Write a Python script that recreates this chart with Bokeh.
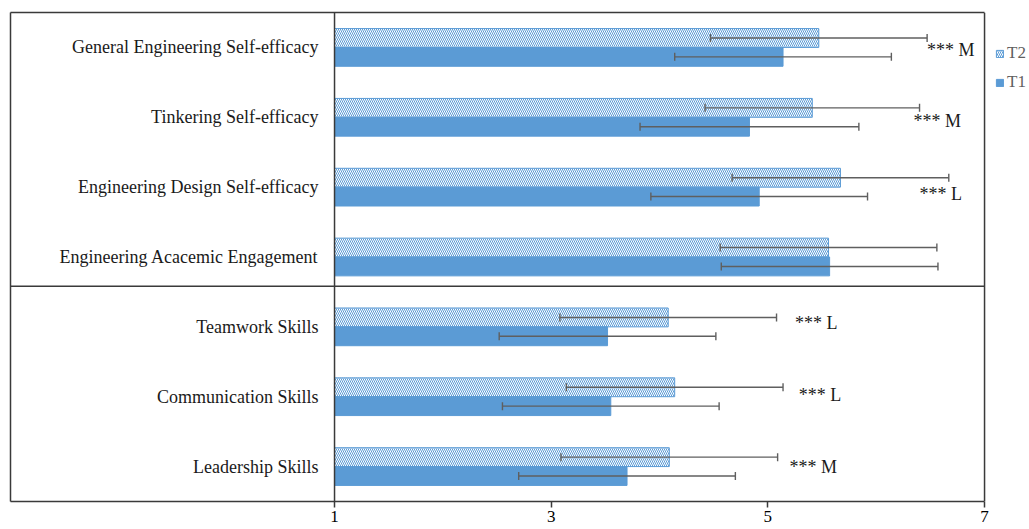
from bokeh.plotting import figure
from bokeh.models import (Range1d, FixedTicker, Span, Whisker, TeeHead,
                          ColumnDataSource, Legend, LegendItem, LinearAxis)
from bokeh.core.properties import value
from bokeh.embed import file_html
from bokeh.resources import INLINE

# ---------------- data ----------------
categories = [
    "General Engineering Self-efficacy",
    "Tinkering Self-efficacy",
    "Engineering Design Self-efficacy",
    "Engineering Acacemic Engagement",
    "Teamwork Skills",
    "Communication Skills",
    "Leadership Skills",
]
t2_mean = [5.47, 5.41, 5.67, 5.56, 4.08, 4.14, 4.09]
t2_sd = [1.00, 0.99, 1.00, 1.00, 1.00, 1.00, 1.00]
t1_mean = [5.14, 4.83, 4.92, 5.57, 3.52, 3.55, 3.70]
t1_sd = [1.00, 1.01, 1.00, 1.00, 1.00, 1.00, 1.00]
sig_labels = ["*** M", "*** M", "*** L", "", "*** L", "*** L", "*** M"]
x_ticks = [1, 3, 5, 7]

# ---------------- layout constants ----------------
BLUE = "#5B9BD5"
GREY = "#5f5f5f"
FRAME = "#3a3a3a"
SERIF = "Liberation Serif"
bar_h = 0.27
X0, X1 = -1.991, 7.415          # frame spans the whole width right of the left margin
BOX_RIGHT = 7
sig_x = [6.47, 6.345, 6.40, None, 5.25, 5.285, 5.20]
sig_dy = [0.03, 0.06, 0.10, 0.0, -0.05, -0.03, 0.0]

n = len(categories)
yc = [i + 0.5 for i in range(n)]
y2 = [y - bar_h / 2 for y in yc]
y1 = [y + bar_h / 2 for y in yc]

src2 = ColumnDataSource(dict(y=y2, m=t2_mean,
                             lo=[m - s for m, s in zip(t2_mean, t2_sd)],
                             hi=[m + s for m, s in zip(t2_mean, t2_sd)]))
src1 = ColumnDataSource(dict(y=y1, m=t1_mean,
                             lo=[m - s for m, s in zip(t1_mean, t1_sd)],
                             hi=[m + s for m, s in zip(t1_mean, t1_sd)]))

p = figure(width=1029, height=529, output_backend="svg", toolbar_location=None,
           x_range=Range1d(X0, X1), y_range=Range1d(n, 0))
p.min_border_left = 10
p.min_border_right = 0
p.min_border_top = 12
p.min_border_bottom = 28
p.background_fill_color = "white"
p.border_fill_color = "white"
p.outline_line_color = None
p.grid.visible = False

# bottom axis = bottom edge of the box
ax = p.xaxis[0]
ax.ticker = FixedTicker(ticks=x_ticks)
ax.bounds = (X0, BOX_RIGHT)
ax.major_tick_out = 6
ax.major_tick_in = 0
ax.minor_tick_line_color = None
ax.axis_line_color = FRAME
ax.axis_line_width = 1.5
ax.major_tick_line_color = FRAME
ax.major_tick_line_width = 1.5
ax.major_label_text_font = SERIF
ax.major_label_text_font_size = "17px"
ax.major_label_text_color = "black"
ax.major_label_standoff = 3

# left axis = left edge of the box
ya = p.yaxis[0]
ya.ticker = FixedTicker(ticks=[])
ya.major_tick_out = 0
ya.major_tick_in = 0
ya.minor_tick_line_color = None
ya.axis_line_color = FRAME
ya.axis_line_width = 1.5

# top axis = top edge of the box
top = LinearAxis(ticker=FixedTicker(ticks=[]), bounds=(X0, BOX_RIGHT),
                 major_tick_out=0, major_tick_in=0, minor_tick_line_color=None,
                 axis_line_color=FRAME, axis_line_width=1.5)
p.add_layout(top, "above")

r2 = p.hbar(y="y", left=1, right="m", height=bar_h, source=src2,
            fill_color="white", line_color=BLUE, line_width=1,
            hatch_pattern="\\", hatch_color=BLUE, hatch_scale=4, hatch_weight=1)
r1 = p.hbar(y="y", left=1, right="m", height=bar_h, source=src1,
            fill_color=BLUE, line_color=BLUE, line_width=1)

for s in (src2, src1):
    w = Whisker(source=s, base="y", lower="lo", upper="hi", dimension="width",
                line_color=GREY, line_width=1.4, level="overlay",
                upper_head=TeeHead(size=8, line_color=GREY, line_width=1.4),
                lower_head=TeeHead(size=8, line_color=GREY, line_width=1.4))
    p.add_layout(w)

p.add_layout(Span(location=1, dimension="height", line_color=FRAME, line_width=1.5))
p.add_layout(Span(location=BOX_RIGHT, dimension="height", line_color=FRAME, line_width=1.5))
p.segment(x0=[X0], y0=[3.92], x1=[BOX_RIGHT], y1=[3.92], line_color=FRAME, line_width=1.5)

# category labels
p.text(x=[0.852] * n, y=yc, text=categories, text_align="right",
       text_baseline="middle", text_font=value(SERIF),
       text_font_size="18px", text_color="#1a1a1a")

# significance labels
sx, sy, st = [], [], []
for i in range(n):
    if sig_labels[i]:
        sx.append(sig_x[i]); sy.append(yc[i] + sig_dy[i]); st.append(sig_labels[i])
p.text(x=sx, y=sy, text=st, text_align="left", text_baseline="middle",
       text_font=value(SERIF), text_font_size="18px", text_color="#1a1a1a")

legend = Legend(items=[LegendItem(label="T2", renderers=[r2]),
                       LegendItem(label="T1", renderers=[r1])],
                location=(985, 409), orientation="vertical",
                glyph_width=9, glyph_height=9, label_height=9,
                spacing=9, padding=0, margin=0, label_standoff=3,
                label_text_font=SERIF, label_text_font_size="17px",
                label_text_color=GREY, border_line_color=None,
                background_fill_alpha=0)
p.add_layout(legend)

open("out.html", "w").write(file_html(p, INLINE))
